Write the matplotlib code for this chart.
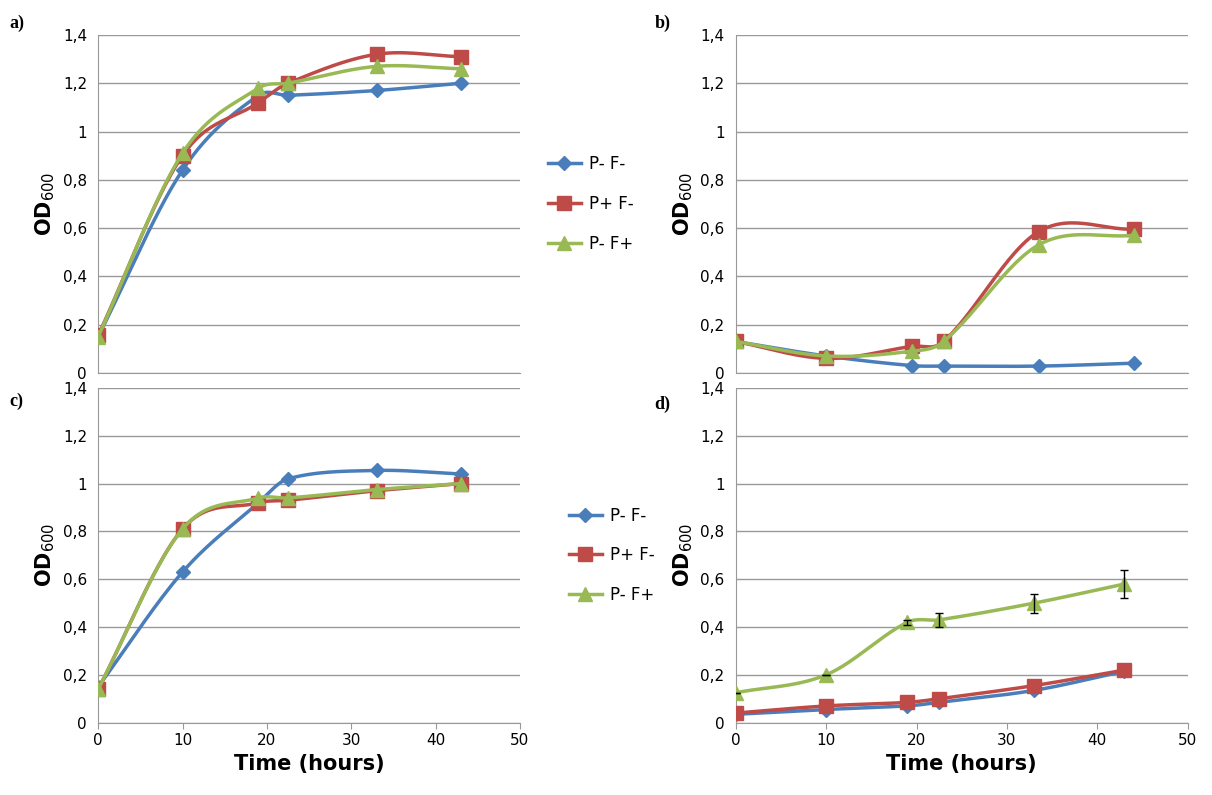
import numpy as np
import matplotlib.pyplot as plt
from matplotlib.lines import Line2D

# time points (hours) per panel
time_a = [0, 10, 19, 22.5, 33, 43]
time_b = [0, 10, 19.5, 23, 33.5, 44]
time_c = [0, 10, 19, 22.5, 33, 43]
time_d = [0, 10, 19, 22.5, 33, 43]

series_names = ["P- F-", "P+ F-", "P- F+"]

a_pm_fm = [0.15, 0.84, 1.15, 1.15, 1.17, 1.20]
a_pp_fm = [0.155, 0.90, 1.12, 1.20, 1.32, 1.31]
a_pm_fp = [0.15, 0.91, 1.18, 1.20, 1.27, 1.26]

b_pm_fm = [0.13, 0.07, 0.03, 0.028, 0.028, 0.04]
b_pp_fm = [0.13, 0.06, 0.11, 0.13, 0.585, 0.595]
b_pm_fp = [0.13, 0.07, 0.09, 0.13, 0.53, 0.57]

c_pm_fm = [0.15, 0.63, 0.92, 1.02, 1.055, 1.04]
c_pp_fm = [0.14, 0.81, 0.92, 0.93, 0.97, 1.0]
c_pm_fp = [0.14, 0.81, 0.94, 0.94, 0.975, 1.0]

d_pm_fm = [0.035, 0.055, 0.07, 0.085, 0.135, 0.215]
d_pp_fm = [0.04, 0.07, 0.085, 0.10, 0.155, 0.22]
d_pm_fp = [0.125, 0.20, 0.42, 0.43, 0.50, 0.58]
d_pm_fp_err = [0.0, 0.0, 0.01, 0.03, 0.04, 0.06]

colors = ["#4a7ebb", "#be4b48", "#98b954"]
markers = ["D", "s", "^"]
msizes = [7, 10, 10]


def smooth(x, y, n=30):
    # hermite curve through the points with catmull-rom slopes (smoothed line look)
    x = np.asarray(x, float)
    y = np.asarray(y, float)
    m = np.zeros_like(y)
    m[1:-1] = (y[2:] - y[:-2]) / (x[2:] - x[:-2])
    m[0] = (y[1] - y[0]) / (x[1] - x[0])
    m[-1] = (y[-1] - y[-2]) / (x[-1] - x[-2])
    xs, ys = [], []
    t = np.linspace(0, 1, n)
    for i in range(len(x) - 1):
        h = x[i + 1] - x[i]
        h00 = 2 * t ** 3 - 3 * t ** 2 + 1
        h10 = t ** 3 - 2 * t ** 2 + t
        h01 = -2 * t ** 3 + 3 * t ** 2
        h11 = t ** 3 - t ** 2
        xs.extend(x[i] + h * t)
        ys.extend(h00 * y[i] + h10 * h * m[i] + h01 * y[i + 1] + h11 * h * m[i + 1])
    return xs, ys


def draw_panel(ax, x, ys, xlabels, err=None):
    for k, y in enumerate(ys):
        sx, sy = smooth(x, y)
        ax.plot(sx, sy, color=colors[k], lw=2.5, zorder=2 + k)
        ax.plot(x, y, ls="none", marker=markers[k], ms=msizes[k], color=colors[k], zorder=2 + k)
    if err is not None:
        ax.errorbar(x, ys[2], yerr=err, fmt="none", ecolor="black", capsize=3, lw=1, zorder=6)
    ax.set_xlim(0, 50)
    ax.set_ylim(0, 1.4)
    ticks = np.arange(0, 1.41, 0.2)
    labels = []
    for v in ticks:
        if abs(v) < 1e-9:
            labels.append("0")
        elif abs(v - 1) < 1e-9:
            labels.append("1")
        else:
            labels.append(f"{v:.1f}".replace(".", ","))
    ax.set_yticks(ticks)
    ax.set_yticklabels(labels, fontsize=11)
    ax.grid(axis="y", color="#999999", lw=1)
    ax.set_axisbelow(True)
    for s in ["top", "right"]:
        ax.spines[s].set_visible(False)
    ax.spines["left"].set_color("#999999")
    ax.spines["bottom"].set_color("#999999")
    ax.tick_params(axis="y", length=0, pad=8)
    if xlabels:
        ax.set_xticks(range(0, 51, 10))
        ax.tick_params(axis="x", labelsize=11, length=4, color="#999999")
        ax.set_xlabel("Time (hours)", fontsize=15, fontweight="bold")
    else:
        ax.set_xticks([])
    ax.set_ylabel("OD$_{600}$", fontsize=15, fontweight="bold")


fig = plt.figure(figsize=(12.12, 7.95), dpi=100)
ax_a = fig.add_axes([0.081, 0.531, 0.348, 0.425])
ax_b = fig.add_axes([0.607, 0.531, 0.373, 0.425])
ax_c = fig.add_axes([0.081, 0.091, 0.348, 0.421])
ax_d = fig.add_axes([0.607, 0.091, 0.373, 0.421])

draw_panel(ax_a, time_a, [a_pm_fm, a_pp_fm, a_pm_fp], False)
draw_panel(ax_b, time_b, [b_pm_fm, b_pp_fm, b_pm_fp], False)
draw_panel(ax_c, time_c, [c_pm_fm, c_pp_fm, c_pm_fp], True)
draw_panel(ax_d, time_d, [d_pm_fm, d_pp_fm, d_pm_fp], True, err=d_pm_fp_err)

handles = [Line2D([], [], color=colors[k], lw=2.5, marker=markers[k], ms=msizes[k])
           for k in range(3)]
ax_a.legend(handles, series_names, loc="center left", bbox_to_anchor=(1.03, 0.5), frameon=False,
            fontsize=12, labelspacing=1.3, handlelength=2, handletextpad=0.5)
ax_c.legend(handles, series_names, loc="center left", bbox_to_anchor=(1.08, 0.5), frameon=False,
            fontsize=12, labelspacing=1.3, handlelength=2, handletextpad=0.5)

for lab, x, y in [("a)", 0.008, 0.965), ("b)", 0.54, 0.965), ("c)", 0.008, 0.49), ("d)", 0.54, 0.485)]:
    fig.text(x, y, lab, fontsize=13, fontweight="bold", family="Liberation Serif")

fig.savefig("out.png", dpi=100)
